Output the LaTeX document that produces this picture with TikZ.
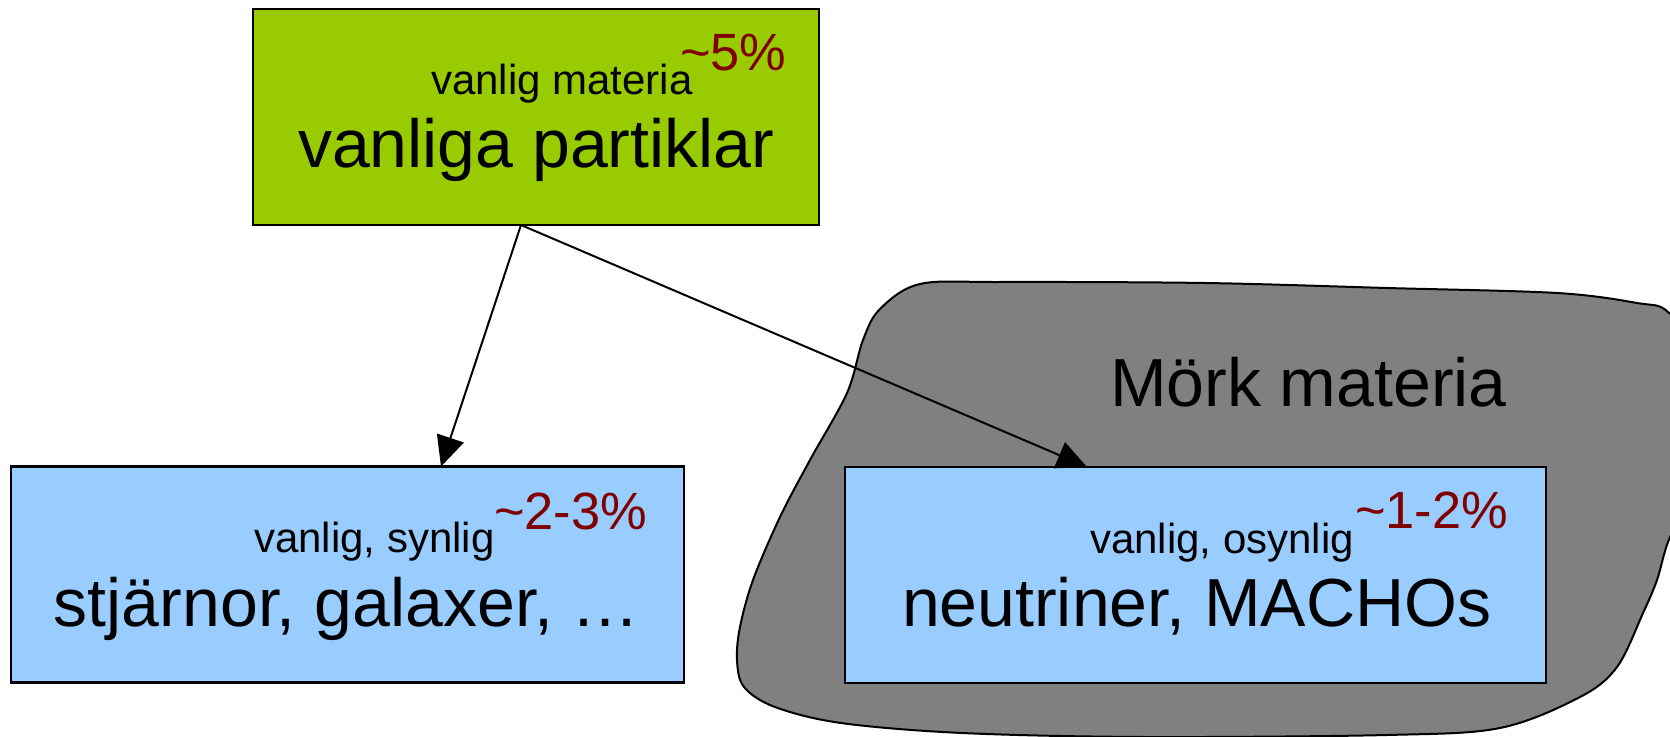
\documentclass[tikz,border=0pt]{standalone}
\usepackage{fontspec}
\setmainfont{Liberation Sans}
\usetikzlibrary{arrows.meta}
\definecolor{partgreen}{HTML}{99CC00}
\definecolor{partblue}{HTML}{99CCFF}
\definecolor{darkgray}{HTML}{808080}
\definecolor{pctred}{HTML}{800000}

\begin{document}
\begin{tikzpicture}[
    x=0.5pt, y=-0.5pt,
    nodes={inner sep=0pt, outer sep=0pt},
    box/.style={%
        draw=black, line width=1.3pt, minimum height=108pt},
    kind/.style={%
        anchor=base west, font=\fontsize{21}{25}\selectfont},
    share/.style={%
        anchor=base west, text=pctred, font=\fontsize{26.2}{31}\selectfont},
    title/.style={%
        anchor=base west, font=\fontsize{34}{41}\selectfont},
    link/.style={line width=1pt, -{Triangle[length=15pt,width=14pt]}},
]
\useasboundingbox (0,0) rectangle (1670,737);

 %dark matter cloud
\begin{scope}
\clip (0,0) rectangle (1670,737);
\filldraw[fill=darkgray, line width=1pt]
    plot[smooth cycle, tension=0.55] coordinates {
      (920,284) (1000,282) (1205,283) (1387,288) (1557,293) (1637,303)
      (1668,312) (1700,360) (1700,480) (1670,537) (1657,580) (1643,613)
      (1617,667) (1580,697) (1500,728) (1387,735) (1144,737) (962,733)
      (841,723) (775,707) (744,687) (737,660) (740,627) (753,580)
      (780,517) (810,460) (847,393) (863,340) (880,309)};
\end{scope}
\node[title] (mork) at (1110,407) {Mörk materia};

 %ordinary matter
\node[box, fill=partgreen, minimum width=283pt] (vanlig) at (536,117) {};
\node[kind] (vanligkind) at (431,95) {vanlig materia};
\node[share] (vanligshare) at (680,71) {\textasciitilde5\%};
\node[title] (vanligtitle) at (298,168) {vanliga partiklar};

 %visible part
\node[box, fill=partblue, minimum width=336.5pt] (synlig) at (347.5,574.5) {};
\node[kind] (synligkind) at (254,552) {vanlig, synlig};
\node[share] (synligshare) at (494,529) {\textasciitilde2-3\%};
\node[title] (synligtitle) at (54,626) {stjärnor, galaxer, …};

 %invisible part
\node[box, fill=partblue, minimum width=350.5pt] (osynlig) at (1195.5,575) {};
\node[kind] (osynligkind) at (1090,553) {vanlig, osynlig};
\node[share] (osynligshare) at (1355,528) {\textasciitilde1-2\%};
\node[title] (osynligtitle) at (902,626) {neutriner, MACHOs};

\draw[link] ([xshift=-7.5pt]vanlig.south) -- ([xshift=46.75pt]synlig.north);
\draw[link] ([xshift=-7.5pt]vanlig.south) -- ([xshift=-54.25pt]osynlig.north);
\end{tikzpicture}
\end{document}
